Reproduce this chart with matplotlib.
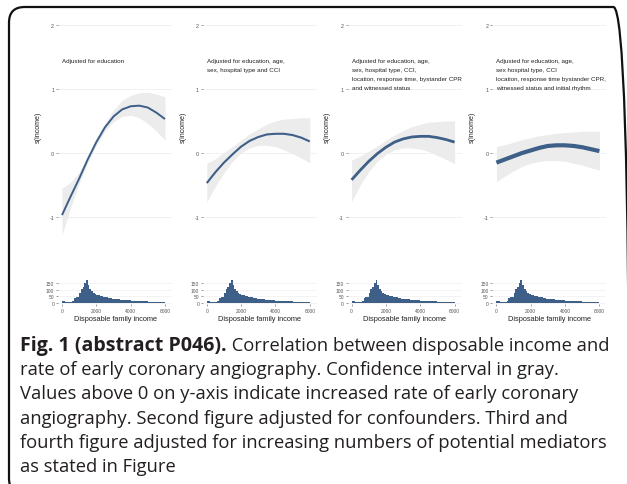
import matplotlib
matplotlib.use('Agg')
import matplotlib.pyplot as plt
from matplotlib.patches import FancyBboxPatch

# ---------------- data ----------------
income = [0, 500, 1000, 1500, 2000, 2500, 3000, 3500, 4000, 4500, 5000, 5500, 6000]

fit_1 = [-0.97, -0.68, -0.40, -0.10, 0.17, 0.40, 0.57, 0.68, 0.73, 0.74, 0.71, 0.63, 0.53]
lo_1 = [-1.28, -0.86, -0.48, -0.15, 0.12, 0.34, 0.49, 0.57, 0.59, 0.55, 0.46, 0.34, 0.20]
hi_1 = [-0.55, -0.46, -0.30, -0.04, 0.23, 0.47, 0.67, 0.82, 0.90, 0.94, 0.95, 0.92, 0.88]

fit_2 = [-0.47, -0.30, -0.15, -0.02, 0.10, 0.19, 0.25, 0.29, 0.30, 0.30, 0.28, 0.24, 0.18]
lo_2 = [-0.77, -0.52, -0.31, -0.13, 0.00, 0.08, 0.12, 0.12, 0.10, 0.05, -0.01, -0.08, -0.15]
hi_2 = [-0.16, -0.09, 0.01, 0.10, 0.20, 0.30, 0.38, 0.45, 0.50, 0.53, 0.54, 0.55, 0.55]

fit_3 = [-0.42, -0.27, -0.13, -0.01, 0.09, 0.17, 0.22, 0.25, 0.26, 0.26, 0.24, 0.21, 0.17]
lo_3 = [-0.76, -0.50, -0.29, -0.13, -0.02, 0.05, 0.08, 0.08, 0.06, 0.02, -0.04, -0.10, -0.17]
hi_3 = [-0.11, -0.05, 0.03, 0.11, 0.20, 0.28, 0.35, 0.41, 0.45, 0.48, 0.49, 0.50, 0.50]

fit_4 = [-0.15, -0.10, -0.05, 0.00, 0.04, 0.08, 0.11, 0.12, 0.12, 0.11, 0.09, 0.06, 0.03]
lo_4 = [-0.45, -0.36, -0.28, -0.21, -0.16, -0.13, -0.12, -0.12, -0.13, -0.16, -0.19, -0.23, -0.27]
hi_4 = [0.10, 0.13, 0.17, 0.21, 0.24, 0.27, 0.29, 0.31, 0.32, 0.33, 0.34, 0.34, 0.34]

hist_left = list(range(0, 6000, 100))
hist_counts = [18, 15, 10, 8, 9, 10, 12, 35, 45, 48,
               80, 105, 120, 155, 175, 140, 110, 95, 78, 72,
               64, 58, 54, 50, 47, 44, 42, 40, 37, 34,
               32, 31, 29, 27, 26, 24, 23, 21, 20, 19,
               18, 17, 16, 15, 15, 14, 13, 13, 12, 12,
               11, 10, 10, 9, 9, 8, 8, 7, 6, 5]

subtitles = [
    "Adjusted for education",
    "Adjusted for education, age,\nsex, hospital type and CCI",
    "Adjusted for education, age,\nsex, hospital type, CCI,\nlocation, response time, bystander CPR\nand witnessed status",
    "Adjusted for education, age,\nsex hospital type, CCI\nlocation, response time bystander CPR,\nwitnessed status and initial rhythm",
]
fits = [fit_1, fit_2, fit_3, fit_4]
los = [lo_1, lo_2, lo_3, lo_4]
his = [hi_1, hi_2, hi_3, hi_4]
line_widths = [1.4, 1.5, 2.0, 3.0]

y_ticks = [-1, 0, 1, 2]
hist_yticks = [0, 50, 100, 150]
hist_xticks = [0, 2000, 4000, 6000]

caption_bold = "Fig. 1 (abstract P046)."
caption_rest = " Correlation between disposable income and"
caption_lines = [
    "rate of early coronary angiography. Confidence interval in gray.",
    "Values above 0 on y-axis indicate increased rate of early coronary",
    "angiography. Second figure adjusted for confounders. Third and",
    "fourth figure adjusted for increasing numbers of potential mediators",
    "as stated in Figure",
]

# ---------------- style ----------------
W, H, DPI = 627, 485, 100
BLUE = '#3e5f88'
BAND = '#ececec'
GRID = '#efefef'
TICKC = '#555555'
plt.rcParams['font.family'] = ['Liberation Sans', 'DejaVu Sans']

fig = plt.figure(figsize=(W / DPI, H / DPI), dpi=DPI)


def ax_px(left, top, right, bottom):
    return fig.add_axes([left / W, 1 - bottom / H, (right - left) / W, (bottom - top) / H])


XL = (-233, 6408)
step = 144.8
for k in range(4):
    x0 = 58 + step * k
    x1 = x0 + 114
    # smooth panel
    ax = ax_px(x0, 21.5, x1, 243.6)
    ax.set_xlim(*XL)
    ax.set_ylim(-1.4, 2.07)
    ax.fill_between(income, los[k], his[k], color=BAND, lw=0, zorder=1)
    ax.plot(income, fits[k], color=BLUE, lw=line_widths[k], solid_capstyle='butt', zorder=3)
    ax.set_yticks(y_ticks)
    ax.set_yticklabels([str(v) for v in y_ticks])
    ax.set_xticks([])
    for yv in y_ticks:
        ax.axhline(yv, color=GRID, lw=0.6, zorder=0)
    for s in ax.spines.values():
        s.set_visible(False)
    ax.tick_params(axis='y', length=1.5, width=0.4, color=TICKC, pad=1.2,
                   labelsize=3.9, labelcolor=TICKC)
    ax.set_ylabel("s(income)", fontsize=5.1, color='#222222')
    ax.yaxis.set_label_coords(-16.5 / 114, (243.6 - 127) / 222.1)
    ax.text(0, 1.49, subtitles[k], fontsize=4.5, color='#222222', va='top', ha='left',
            linespacing=2.0)

    # histogram
    hx = ax_px(x0, 279.9, x1, 305.0)
    hx.set_xlim(*XL)
    hx.set_ylim(-8, 185)
    for yv in hist_yticks:
        hx.axhline(yv, color=GRID, lw=0.5, zorder=0)
    hx.bar(hist_left, hist_counts, width=100, align='edge', color=BLUE, lw=0, zorder=2)
    hx.set_yticks(hist_yticks)
    hx.set_xticks(hist_xticks)
    for s in hx.spines.values():
        s.set_visible(False)
    hx.tick_params(axis='both', length=1.5, width=0.4, color=TICKC, pad=1.2,
                   labelsize=3.5, labelcolor=TICKC)
    hx.set_xlabel("Disposable family income", fontsize=5.3, color='#222222', labelpad=1.5)

# border box
box = FancyBboxPatch((9 / W, -10 / H), 620 / W, (H - 8 + 10) / H,
                     boxstyle="round,pad=0,rounding_size=0.025",
                     transform=fig.transFigure, fill=False, ec='#111111', lw=1.6,
                     mutation_aspect=W / H)
fig.patches.append(box)

# caption
cap_font = ['Open Sans', 'DejaVu Sans']
cap_size = 13.2
xc = 20 / W
line_gap = 24.2
y_first = 346
t1 = fig.text(xc, 1 - y_first / H, caption_bold, fontsize=14.1, weight='bold',
              family=cap_font, va='center', ha='left', color='#231f20')
fig.canvas.draw()
bb = t1.get_window_extent()
fig.text(bb.x1 / W, 1 - y_first / H, caption_rest, fontsize=cap_size,
         family=cap_font, va='center', ha='left', color='#231f20')
for i, line in enumerate(caption_lines):
    fig.text(xc, 1 - (y_first + line_gap * (i + 1)) / H, line, fontsize=cap_size,
             family=cap_font, va='center', ha='left', color='#231f20')

fig.savefig('out.png', dpi=DPI)
